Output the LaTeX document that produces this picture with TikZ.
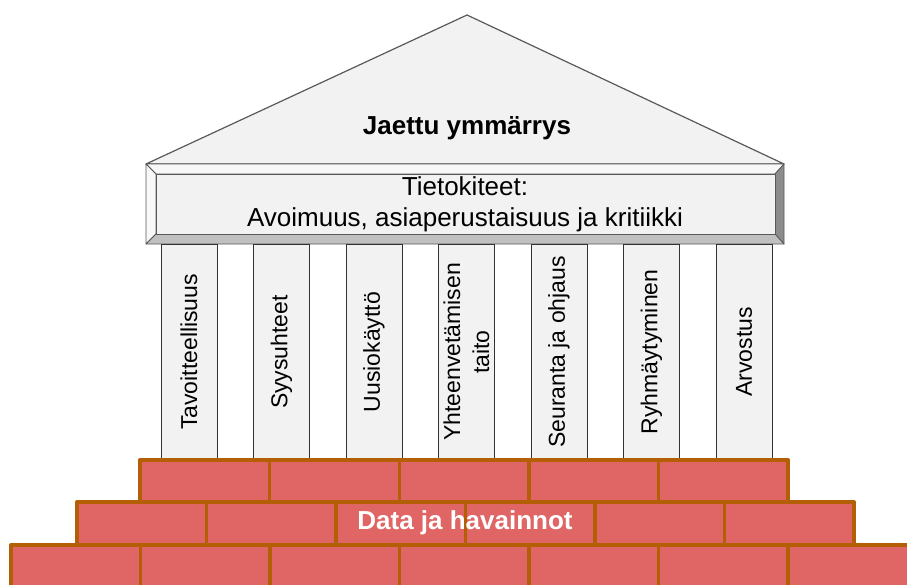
\documentclass[tikz,border=0pt]{standalone}
\usepackage{fontspec}
\setmainfont{Liberation Sans}
\usetikzlibrary{positioning}
\definecolor{stonefill}{HTML}{F2F2F2}
\definecolor{stoneline}{HTML}{595959}
\definecolor{bevellight}{HTML}{F8F8F8}
\definecolor{bevelmid}{HTML}{C0C0C0}
\definecolor{beveldark}{HTML}{8C8C8C}
\definecolor{brickfill}{HTML}{E06666}
\definecolor{brickline}{HTML}{B45F06}

\begin{document}
\begin{tikzpicture}[x=1pt,y=-1pt,
  pillar/.style={draw=black!80,fill=stonefill,rotate=90,minimum width=216pt,
    minimum height=56pt,inner sep=0pt,align=center,
    font=\fontsize{23}{29}\selectfont},
  bevel/.style={draw=stoneline,line width=0.8pt,line join=round},
  brick/.style={draw=brickline,fill=brickfill,line width=3.4pt,line join=round}]
\useasboundingbox (0,0) rectangle (907,584);
% roof
\draw[stoneline,fill=stonefill,line width=1.2pt,line join=round]
  (146,164) -- (467,15) -- (784,164) -- cycle;
\node[font=\fontsize{26}{30}\selectfont\bfseries] (roof) at (467,128) {Jaettu ymmärrys};
% beam with bevelled edges
\draw[bevel,fill=bevellight] (146,164) -- (784,164) -- (775,174) -- (156,174) -- cycle;
\draw[bevel,fill=bevellight] (146,164) -- (156,174) -- (156,234) -- (146,244) -- cycle;
\draw[bevel,fill=beveldark] (784,164) -- (784,244) -- (775,234) -- (775,174) -- cycle;
\draw[bevel,fill=bevelmid] (146,244) -- (784,244) -- (775,234) -- (156,234) -- cycle;
\draw[bevel,fill=stonefill] (156,174) rectangle (775,234);
\node[align=center,font=\fontsize{26}{31}\selectfont] (beam) at (465,204)
  {Tietokiteet:\\Avoimuus, asiaperustaisuus ja kritiikki};
% pillars
\foreach \n/\t [count=\i from 0] in {p1/Tavoitteellisuus,p2/Syysuhteet,p3/Uusiokäyttö,
    p4/{Yhteenvetämisen\\taito},p5/Seuranta ja ohjaus,p6/Ryhmäytyminen,p7/Arvostus}
  \node[pillar] (\n) at ({189+92.5*\i},352) {\t};
% bricks
\foreach \i in {0,...,4} \draw[brick] ({140+129.6*\i},460) rectangle ++(129.6,42);
\foreach \i in {0,...,5} \draw[brick] ({77+129.5*\i},502) rectangle ++(129.5,43);
\foreach \i in {0,...,6} \draw[brick] ({11+129.5*\i},545) rectangle ++(129.5,45);
\node[white,font=\fontsize{26}{30}\selectfont\bfseries] (data) at (465,523) {Data ja havainnot};
\end{tikzpicture}
\end{document}
